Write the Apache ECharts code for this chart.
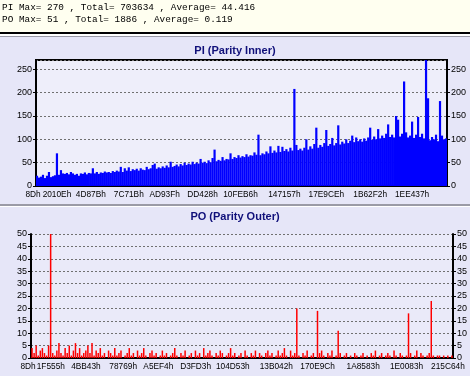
<!DOCTYPE html>
<html>
<head>
<meta charset="utf-8">
<title>PI / PO scan</title>
<script src="https://cdn.jsdelivr.net/npm/echarts@6/dist/echarts.min.js"></script>
<style>
  html, body { margin: 0; padding: 0; background: #E6E6F8; }
  #main { width: 470px; height: 376px; }
</style>
</head>
<body>
<div id="main"></div>
<script type="text/javascript">
// header lines
var headerLines = [
  'PI Max= 270 , Total= 703634 , Average= 44.416',
  'PO Max= 51 , Total= 1886 , Average= 0.119'
];

// last LBA of the scan (the x axis is linear in LBA)
var lbaEnd = 0x215C64;

// PI (Parity Inner)
var piLabels = ['8Dh', '2010Eh', '4D87Bh', '7C71Bh', 'AD93Fh', 'DD428h', '10FEB6h', '147157h', '17E9CEh', '1B62F2h', '1EE437h'];
var piValues = [
  22, 18, 20, 24, 17, 22, 30, 19, 21, 23,
  70, 24, 34, 27, 26, 28, 25, 30, 27, 24,
  26, 22, 27, 26, 29, 25, 28, 27, 38, 27,
  30, 26, 29, 28, 31, 29, 30, 28, 32, 30,
  33, 31, 41, 30, 38, 33, 40, 32, 36, 34,
  37, 33, 38, 35, 34, 41, 36, 38, 45, 48,
  37, 40, 38, 42, 39, 44, 40, 52, 41, 43,
  46, 42, 47, 44, 50, 45, 48, 46, 52, 47,
  50, 48, 58, 50, 52, 49, 55, 51, 60, 78,
  53, 56, 54, 62, 55, 58, 57, 70, 58, 62,
  60, 66, 61, 64, 62, 68, 63, 66, 65, 72,
  67, 110, 66, 70, 68, 74, 70, 85, 71, 76,
  72, 86, 73, 84, 75, 79, 74, 82, 76, 208,
  88, 77, 80, 76, 82, 100, 78, 85, 80, 90,
  125, 82, 88, 84, 92, 120, 86, 90, 103, 87,
  92, 130, 89, 95, 91, 100, 92, 97, 108, 94,
  104, 96, 100, 95, 102, 97, 104, 125, 99, 106,
  100, 122, 102, 108, 103, 112, 132, 105, 110, 104,
  150, 142, 106, 112, 224, 115, 104, 108, 138, 103,
  110, 148, 105, 112, 102, 270, 188, 98, 105, 100,
  110, 96, 182, 108, 100, 102
];

// PO (Parity Outer)
var poLabels = ['8Dh', '1F555h', '4BB43h', '78769h', 'A5EF4h', 'D3FD3h', '104D53h', '13B042h', '170E9Ch', '1A8583h', '1E0083h', '215C64h'];
var poValues = [
  4, 2, 5, 1, 3, 4, 2, 1, 5,
  51,
  2, 1, 3, 6, 2, 1, 4, 2, 5, 1,
  3, 6, 2, 4, 1, 2, 3, 5, 2, 6,
  1, 3, 2, 4, 1, 2, 0, 3, 2, 1,
  4, 1, 2, 3, 0, 1, 2, 4, 1, 2,
  0, 3, 1, 2, 4, 1, 0, 2, 3, 1,
  2, 0, 1, 3, 1, 2, 0, 1, 2, 4,
  1, 0, 2, 1, 3, 0, 1, 2, 0, 3,
  1, 2, 0, 4, 1, 2, 3, 1, 0, 2,
  1, 3, 2, 0, 1, 2, 4, 1, 2, 0,
  1, 2, 0, 3, 1, 0, 2, 1, 3, 0,
  2, 1, 0, 2, 3, 1, 2, 0, 1, 3,
  1, 2, 4, 1, 0, 3, 1, 2,
  20,
  1, 0, 2, 1, 3, 0, 1, 2, 0,
  19,
  2, 3, 1, 0, 2, 1, 3, 0, 1,
  11,
  2, 0, 1, 2, 0, 1, 0, 2, 1, 0, 1,
  2, 0, 1, 0, 2, 1, 3, 0, 1, 2,
  0, 1, 2, 1, 0, 3, 1, 0, 2, 1, 0, 1,
  18,
  2, 0, 1, 3, 0, 2, 1, 0, 1, 2,
  23,
  1, 0, 1, 1, 0, 1, 0, 1, 0, 1
];

var myChart = echarts.init(document.getElementById('main'), null, { renderer: 'canvas' });

function cats(arr) {
  var out = [];
  for (var i = 0; i < arr.length; i++) out.push(String(i));
  return out;
}

// sample index where each hex LBA label falls
function labelIndex(labels, n) {
  return labels.map(function (s) {
    var lba = parseInt(s.replace('h', ''), 16);
    var i = Math.round(lba / lbaEnd * n - 0.5);
    return Math.min(n - 1, Math.max(0, i));
  });
}

var piLabelIdx = labelIndex(piLabels, piValues.length);
var poLabelIdx = labelIndex(poLabels, poValues.length);

function xAxisFor(grid, n, labels, idx, minor) {
  return {
    type: 'category',
    gridIndex: grid,
    data: cats(n),
    axisLine: { lineStyle: { color: '#000', width: 2 } },
    axisTick: {
      length: 3,
      lineStyle: { color: '#000' },
      interval: function (i) { return minor ? i % 4 === 0 : idx.indexOf(i) >= 0; }
    },
    axisLabel: {
      interval: function (i) { return idx.indexOf(i) >= 0; },
      formatter: function (v, i) { var k = idx.indexOf(i); return k >= 0 ? labels[k] : ''; },
      hideOverlap: false,
      showMinLabel: true,
      showMaxLabel: true,
      color: '#000',
      fontFamily: 'Liberation Sans',
      fontSize: 8.3,
      padding: [0, 8, 0, 0],
      margin: 5
    },
    splitLine: { show: false }
  };
}

function yAxisFor(grid, pos, max, step, split) {
  return {
    type: 'value',
    gridIndex: grid,
    position: pos,
    min: 0,
    max: max,
    interval: step,
    axisLine: { show: true, lineStyle: { color: '#000', width: 2 } },
    axisTick: { show: true, length: 3, lineStyle: { color: '#000' } },
    axisLabel: {
      color: '#000',
      fontFamily: 'Liberation Sans',
      fontSize: 9,
      margin: 4,
      showMaxLabel: max % step === 0
    },
    splitLine: split ? { show: true, lineStyle: { color: '#707070', type: [2, 2], width: 1 } } : { show: false }
  };
}

myChart.setOption({
  backgroundColor: '#E6E6F8',
  animation: false,
  graphic: [
    { type: 'rect', shape: { x: 0, y: 0, width: 470, height: 32 }, style: { fill: '#FFFFF0' } },
    { type: 'text', left: 2, top: 3, style: { text: headerLines[0], font: '9.4px "Liberation Mono"', fill: '#000' } },
    { type: 'text', left: 2, top: 15, style: { text: headerLines[1], font: '9.4px "Liberation Mono"', fill: '#000' } },
    { type: 'rect', shape: { x: 0, y: 32, width: 470, height: 2 }, style: { fill: '#000' } },
    { type: 'rect', shape: { x: 0, y: 34, width: 470, height: 2 }, style: { fill: '#FFFFFF' } },
    { type: 'rect', shape: { x: 0, y: 36, width: 470, height: 1 }, style: { fill: '#9A9AA6' } },
    { type: 'rect', shape: { x: 0, y: 204, width: 470, height: 2 }, style: { fill: '#9A9AA6' } },
    { type: 'rect', shape: { x: 0, y: 206, width: 470, height: 1 }, style: { fill: '#FFFFFF' } },
    { type: 'text', left: 'center', top: 45, style: { text: 'PI (Parity Inner)', font: 'bold 11px "Liberation Sans"', fill: '#10107A' } },
    { type: 'text', left: 'center', top: 211, style: { text: 'PO (Parity Outer)', font: 'bold 11px "Liberation Sans"', fill: '#10107A' } }
  ],
  grid: [
    { left: 36, top: 60, width: 411, height: 126, show: true, backgroundColor: '#EEEEFA', borderColor: '#000', borderWidth: 2 },
    { left: 31, top: 234, width: 422, height: 124, show: true, backgroundColor: '#EAEAF9', borderWidth: 0 }
  ],
  xAxis: [
    xAxisFor(0, piValues, piLabels, piLabelIdx, false),
    xAxisFor(1, poValues, poLabels, poLabelIdx, true)
  ],
  yAxis: [
    yAxisFor(0, 'left', 270, 50, true),
    yAxisFor(0, 'right', 270, 50, false),
    yAxisFor(1, 'left', 50, 5, true),
    yAxisFor(1, 'right', 50, 5, false)
  ],
  series: [
    {
      name: 'PI',
      type: 'bar',
      xAxisIndex: 0,
      yAxisIndex: 0,
      data: piValues,
      barWidth: 2.2,
      itemStyle: { color: '#0000FF' },
      clip: true
    },
    {
      name: 'PO',
      type: 'bar',
      xAxisIndex: 1,
      yAxisIndex: 2,
      data: poValues,
      barWidth: 1.5,
      itemStyle: { color: '#FF0000' },
      clip: true
    }
  ]
});
</script>
</body>
</html>
